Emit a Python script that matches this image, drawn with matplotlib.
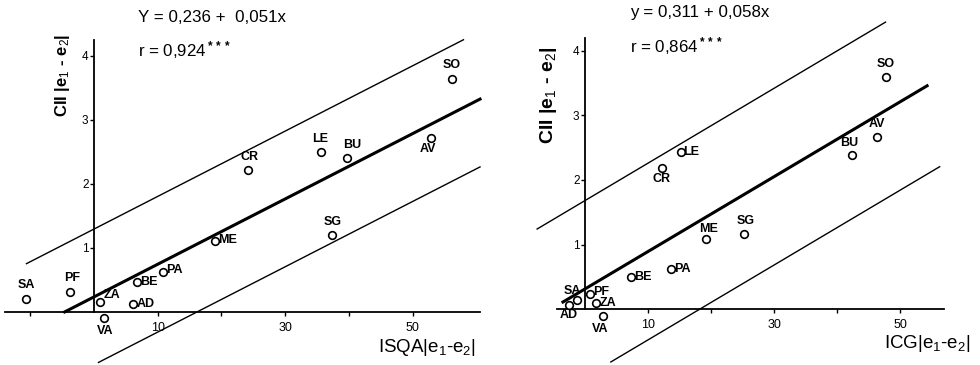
import matplotlib
matplotlib.use("Agg")
import matplotlib.pyplot as plt
import numpy as np

plt.rcParams['font.family'] = ['Liberation Sans', 'DejaVu Sans']
plt.rcParams['mathtext.fontset'] = 'custom'
plt.rcParams['mathtext.rm'] = 'Liberation Sans'
plt.rcParams['mathtext.it'] = 'Liberation Sans'
plt.rcParams['mathtext.bf'] = 'Liberation Sans:bold'

# ---------------- data ----------------
sites_left = ["SA", "PF", "ZA", "VA", "AD", "BE", "PA", "ME", "CR", "LE", "BU", "SG", "AV", "SO"]
isqa_x = [-10.6, -3.8, 0.9, 1.6, 6.2, 6.8, 10.9, 19.0, 24.2, 35.7, 39.7, 37.3, 52.9, 56.2]
cii_left = [0.20, 0.31, 0.15, -0.10, 0.12, 0.47, 0.63, 1.11, 2.22, 2.50, 2.40, 1.21, 2.72, 3.64]

sites_right = ["SO", "AV", "BU", "LE", "CR", "ME", "SG", "PA", "BE", "PF", "ZA", "VA", "SA", "AD"]
icg_x = [47.7, 46.3, 42.4, 15.2, 12.2, 19.2, 25.3, 13.7, 7.3, 0.8, 1.7, 2.9, -1.3, -2.5]
cii_right = [3.60, 2.67, 2.38, 2.44, 2.19, 1.09, 1.16, 0.62, 0.49, 0.24, 0.10, -0.11, 0.14, 0.06]

# regression: intercept, slope, band half-width
reg_left = (0.236, 0.051, 1.06)
reg_right = (0.311, 0.058, 1.37)

eq_left = ["Y = 0,236 +  0,051x", r"r = 0,924$^{\bf ***}$"]
eq_right = ["y = 0,311 + 0,058x", r"r = 0,864$^{\bf ***}$"]

xticks_left = [-10, 10, 20, 30, 40, 50]
xticks_right = [10, 20, 30, 40, 50]
xticklabels_shown = [10, 30, 50]
yticks = [1, 2, 3, 4]

# label offsets in points (dx, dy, ha, va)
off_left = {
    "SA": (0, 6, 'center', 'bottom'), "PF": (2, 6, 'center', 'bottom'),
    "ZA": (3, 1, 'left', 'bottom'), "VA": (1, -5, 'center', 'top'),
    "AD": (2, 0, 'left', 'center'), "BE": (2, 0, 'left', 'center'),
    "PA": (2, 1, 'left', 'center'), "ME": (2, 1, 'left', 'center'),
    "CR": (1, 5, 'center', 'bottom'), "LE": (-1, 5, 'center', 'bottom'),
    "BU": (4, 5, 'center', 'bottom'), "SG": (1, 5, 'center', 'bottom'),
    "AV": (-2, -4, 'center', 'top'), "SO": (0, 6, 'center', 'bottom'),
}
off_right = {
    "SO": (0, 5, 'center', 'bottom'), "AV": (0, 5, 'center', 'bottom'),
    "BU": (-2, 5, 'center', 'bottom'), "LE": (2, 0, 'left', 'center'),
    "CR": (0, -4, 'center', 'top'), "ME": (2, 3, 'center', 'bottom'),
    "SG": (1, 5, 'center', 'bottom'), "PA": (2, 0, 'left', 'center'),
    "BE": (2, 0, 'left', 'center'), "PF": (2, 1, 'left', 'center'),
    "ZA": (3, 0, 'left', 'center'), "VA": (-2, -5, 'center', 'top'),
    "SA": (-3, 2, 'center', 'bottom'), "AD": (0, -3, 'center', 'top'),
}

W, H = 980, 365
fig = plt.figure(figsize=(W / 100, H / 100), dpi=100)


def make_panel(rect, xlim, ylim, xs, ys, names, reg, spans, offs, xticks,
               xspine, ytop, eq, eqpos, xlabel, xlabpos, ylabpos, ylabsize):
    ax = fig.add_axes(rect)
    ax.set_xlim(*xlim)
    ax.set_ylim(*ylim)
    ax.patch.set_alpha(0)
    for s in ['top', 'right']:
        ax.spines[s].set_visible(False)
    ax.spines['left'].set_position(('data', 0))
    ax.spines['bottom'].set_position(('data', 0))
    ax.spines['left'].set_bounds(0, ytop)
    ax.spines['bottom'].set_bounds(*xspine)
    for s in ['left', 'bottom']:
        ax.spines[s].set_linewidth(1.3)
    ax.set_yticks(yticks)
    ax.set_yticklabels([str(v) for v in yticks], fontsize=8.5)
    ax.set_xticks(xticks)
    ax.set_xticklabels([str(v) if v in xticklabels_shown else "" for v in xticks],
                       fontsize=9)
    ax.tick_params(axis='y', direction='out', length=3, width=1, pad=1)
    ax.tick_params(axis='x', direction='out', length=3, width=1, pad=4)

    a, b, d = reg
    (m0, m1), (u0, u1), (l0, l1) = spans
    xm = np.array([m0, m1]); ax.plot(xm, a + b * xm, color='black', lw=2.2)
    xu = np.array([u0, u1]); ax.plot(xu, a + d + b * xu, color='black', lw=1.0)
    xl = np.array([l0, l1]); ax.plot(xl, a - d + b * xl, color='black', lw=1.0)

    ax.plot(xs, ys, 'o', ms=5.5, mfc='white', mec='black', mew=1.2, zorder=5)
    for n, x, y in zip(names, xs, ys):
        dx, dy, ha, va = offs[n]
        ax.annotate(n, (x, y), xytext=(dx, dy), textcoords='offset points',
                    ha=ha, va=va, fontsize=9, fontweight='bold', zorder=6)

    fig.text(eqpos[0] / W, 1 - eqpos[1] / H, eq[0], fontsize=12.2,
             ha='left', va='center')
    fig.text(eqpos[0] / W, 1 - (eqpos[1] + 33) / H, eq[1], fontsize=12.2,
             ha='left', va='center')
    fig.text(xlabpos[0] / W, 1 - xlabpos[1] / H, xlabel, fontsize=13.5,
             ha='right', va='center')
    fig.text(ylabpos[0] / W, 1 - ylabpos[1] / H,
             r"C$\mathbf{II}$ |e$_1$ - e$_2$|", fontsize=ylabsize,
             ha='center', va='center', rotation=90, fontweight='bold')
    return ax


# left panel: pixel origin (94, 312), 6.37 px / x unit, 64 px / y unit
make_panel([0, 0, 0.5, 1], (-94 / 6.37, (490 - 94) / 6.37), ((312 - 365) / 64, 312 / 64),
           isqa_x, cii_left, sites_left, reg_left,
           ((-4.6, 60.6), (-10.6, 58.0), (0.7, 60.6)), off_left, xticks_left,
           (-13.9, 60.6), 4.25, eq_left, (138, 17), "ISQA|e$_1$-e$_2$|",
           (476, 348), (63, 75), 12)

# right panel: pixel origin (585, 309), 6.3 px / x unit, 64.5 px / y unit
make_panel([0.5, 0, 0.5, 1], ((490 - 585) / 6.3, (980 - 585) / 6.3),
           ((309 - 365) / 64.5, 309 / 64.5),
           icg_x, cii_right, sites_right, reg_right,
           ((-3.5, 54.3), (-7.6, 47.7), (4.1, 56.3)), off_right, xticks_right,
           (-4.4, 57.0), 4.2, eq_right, (630, 13), "ICG|e$_1$-e$_2$|",
           (970, 343), (548, 95), 14)

fig.savefig("out.png", dpi=100)
